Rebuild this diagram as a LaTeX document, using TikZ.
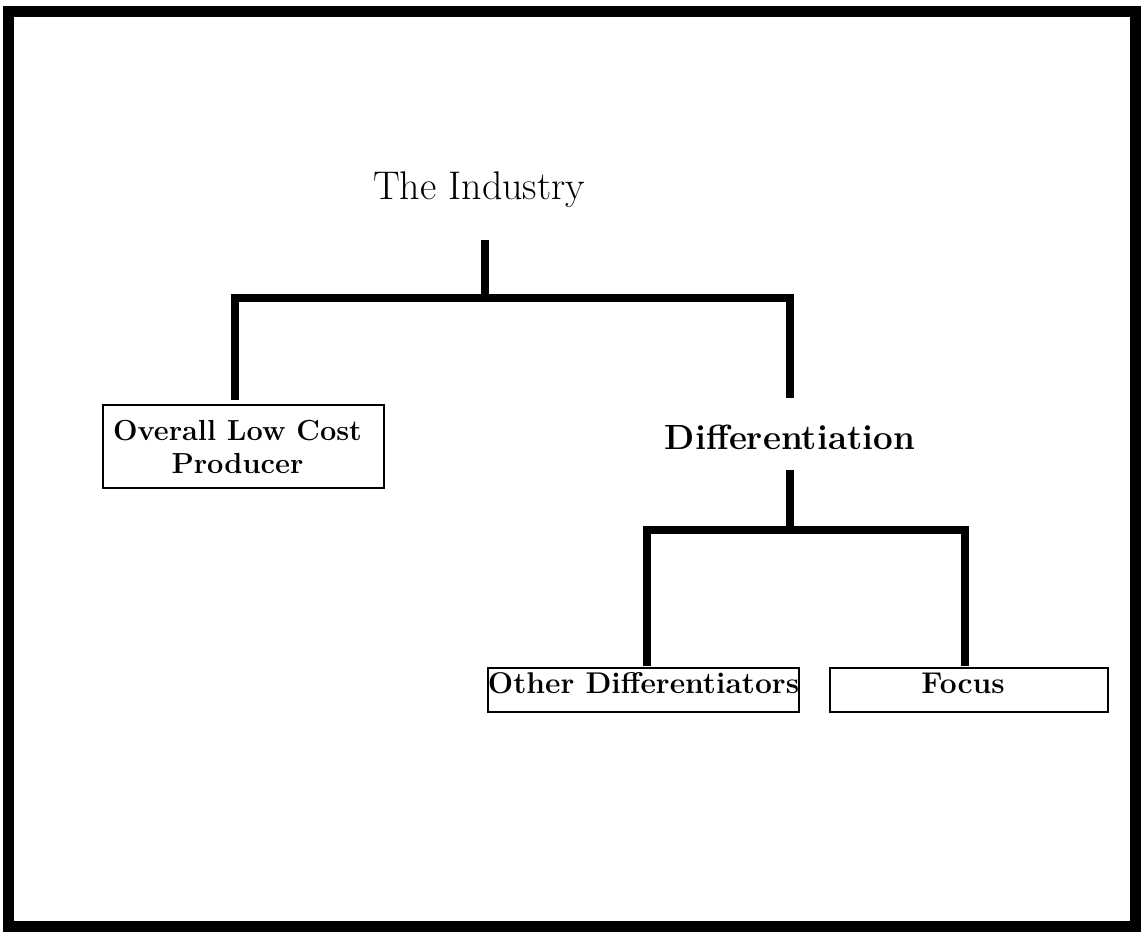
\documentclass[tikz,border=0pt]{standalone}
\usepackage{fontspec}
\begin{document}
\begin{tikzpicture}[x=1pt,y=-1pt,
  conn/.style={line width=8pt, line cap=butt, line join=miter},
  boxn/.style={draw, line width=1.6pt, inner sep=0pt, align=center},
  lbl/.style={font=\fontsize{30}{33}\selectfont\bfseries}]
\useasboundingbox (0,0) rectangle (1144,938);
\draw[line width=11pt] (8,11) rectangle (1135,926);
\node[font=\fontsize{40}{44}\selectfont] (industry) at (479,190) {The Industry};
\node[boxn, font=\fontsize{29}{33}\selectfont\bfseries, minimum width=281pt, minimum height=83pt] (lowcost) at (243.5,446.5) {\hspace*{-12pt}Overall Low Cost\\\hspace*{-12pt}Producer};
\node[font=\fontsize{35}{38}\selectfont\bfseries] (diff) at (790,437) {Differentiation};
\node[boxn, lbl, minimum width=309pt, minimum height=44pt, text depth=14pt] (other) at (643.5,690) {Other Differentiators};
\node[boxn, lbl, minimum width=278pt, minimum height=44pt, text depth=14pt] (focus) at (969,690) {\hspace*{-12pt}Focus};
\coordinate (t1) at (485,240);
\coordinate (b1) at (485,298);
\coordinate (l1) at (235,400);
\coordinate (r1) at (790,398);
\coordinate (t2) at (790,470);
\coordinate (b2) at (790,530);
\coordinate (l2) at (647,666);
\coordinate (r2) at (965,666);
\draw[conn] (t1) -- (b1);
\draw[conn] (l1) |- (r1 |- b1) -- (r1);
\draw[conn] (t2) -- (b2);
\draw[conn] (l2) |- (r2 |- b2) -- (r2);
\end{tikzpicture}
\end{document}
